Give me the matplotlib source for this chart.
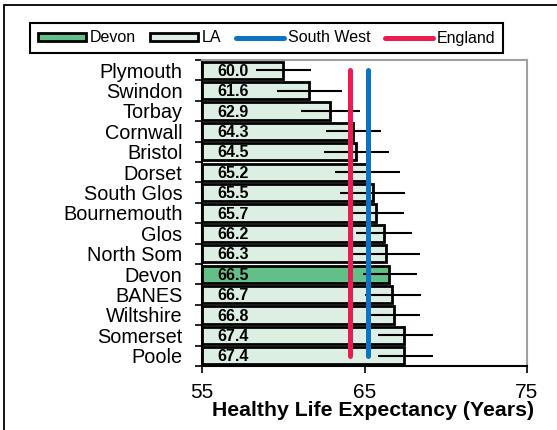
import matplotlib
matplotlib.use("Agg")
import matplotlib.pyplot as plt
from matplotlib.patches import Patch, Rectangle
from matplotlib.lines import Line2D
import numpy as np

plt.rcParams['font.family'] = ['Liberation Sans', 'DejaVu Sans']

# data
areas = ["Plymouth", "Swindon", "Torbay", "Cornwall", "Bristol", "Dorset",
         "South Glos", "Bournemouth", "Glos", "North Som", "Devon", "BANES",
         "Wiltshire", "Somerset", "Poole"]
hle = [60.0, 61.6, 62.9, 64.3, 64.5, 65.2, 65.5, 65.7, 66.2, 66.3, 66.5,
       66.7, 66.8, 67.4, 67.4]
ci_low = [58.3, 59.6, 61.1, 62.6, 62.5, 63.2, 63.5, 64.0, 64.5, 64.2, 64.9,
          65.0, 65.2, 65.8, 65.8]
ci_high = [61.7, 63.6, 64.7, 66.0, 66.5, 67.2, 67.5, 67.4, 67.9, 68.4, 68.2,
           68.5, 68.4, 69.2, 69.2]
south_west = 65.2
england = 64.1
highlight = "Devon"

green = "#63bf88"
pale = "#dcefe2"
blue = "#0a73c6"
red = "#ec1c50"

fig = plt.figure(figsize=(5.57, 4.3), dpi=100)
ax = fig.add_axes([202 / 557, 1 - 366 / 430, 325 / 557, 306 / 430])

y = np.arange(len(areas))
base = 55
colors = [green if a == highlight else pale for a in areas]
widths = [v - base for v in hle]
ax.barh(y, widths, left=base, height=0.84, color=colors,
        edgecolor="black", linewidth=2, zorder=2)

err = [np.array(hle) - np.array(ci_low), np.array(ci_high) - np.array(hle)]
ax.errorbar(hle, y, xerr=err, fmt="none", ecolor="black", elinewidth=1.5,
            capsize=0, zorder=3)

for yi, v in zip(y, hle):
    ax.text(base + 0.95, yi + 0.05, f"{v:.1f}", ha="left", va="center",
            fontsize=11.5, fontweight="bold", zorder=4)

ax.plot([england, england], [0, len(areas) - 1], color=red, lw=3.6,
        solid_capstyle="round", zorder=5)
ax.plot([south_west, south_west], [0, len(areas) - 1], color=blue, lw=3.6,
        solid_capstyle="round", zorder=5)

ax.set_xlim(55, 75)
ax.set_ylim(len(areas) - 0.5, -0.5)
ax.set_xticks([55, 65, 75])
ax.tick_params(axis="x", labelsize=15, length=5, width=1.2, pad=7)

# y ticks at the category boundaries, labels at the centres
ax.set_yticks(np.arange(len(areas) + 1) - 0.5)
ax.set_yticklabels([])
ax.set_yticks(y, minor=True)
ax.set_yticklabels(areas, minor=True, fontsize=14.3)
ax.tick_params(axis="y", which="major", length=5, width=1.2)
ax.tick_params(axis="y", which="minor", length=0, pad=14)

for s in ["left", "bottom"]:
    ax.spines[s].set_color("black")
    ax.spines[s].set_linewidth(1.5)
for s in ["top", "right"]:
    ax.spines[s].set_color("#a0a0a0")
    ax.spines[s].set_linewidth(1.5)

fig.text(373 / 557, 1 - 410 / 430, "Healthy Life Expectancy (Years)",
         ha="center", va="center", fontsize=15.3, fontweight="bold")

handles = [Patch(facecolor=green, edgecolor="black", linewidth=2),
           Patch(facecolor=pale, edgecolor="black", linewidth=2),
           Line2D([], [], color=blue, lw=3.6, solid_capstyle="round"),
           Line2D([], [], color=red, lw=3.6, solid_capstyle="round")]
leg = fig.legend(handles, ["Devon", "LA", "South West", "England"], ncol=4,
                 loc="center", bbox_to_anchor=(266.5 / 557, 1 - 38 / 430),
                 bbox_transform=fig.transFigure, fontsize=11.5,
                 handlelength=3.0, handleheight=0.45, handletextpad=0.25,
                 columnspacing=0.9, borderpad=0.5, fancybox=False,
                 framealpha=1)
leg.get_frame().set_edgecolor("black")
leg.get_frame().set_linewidth(1.5)

# chart area border (cropped on the right and bottom)
fig.patches.append(Rectangle((4 / 557, -0.1), 1.2, 1.1 - 5 / 430,
                             transform=fig.transFigure, fill=False,
                             edgecolor="black", linewidth=1.3))

fig.savefig("out.png", dpi=100)
